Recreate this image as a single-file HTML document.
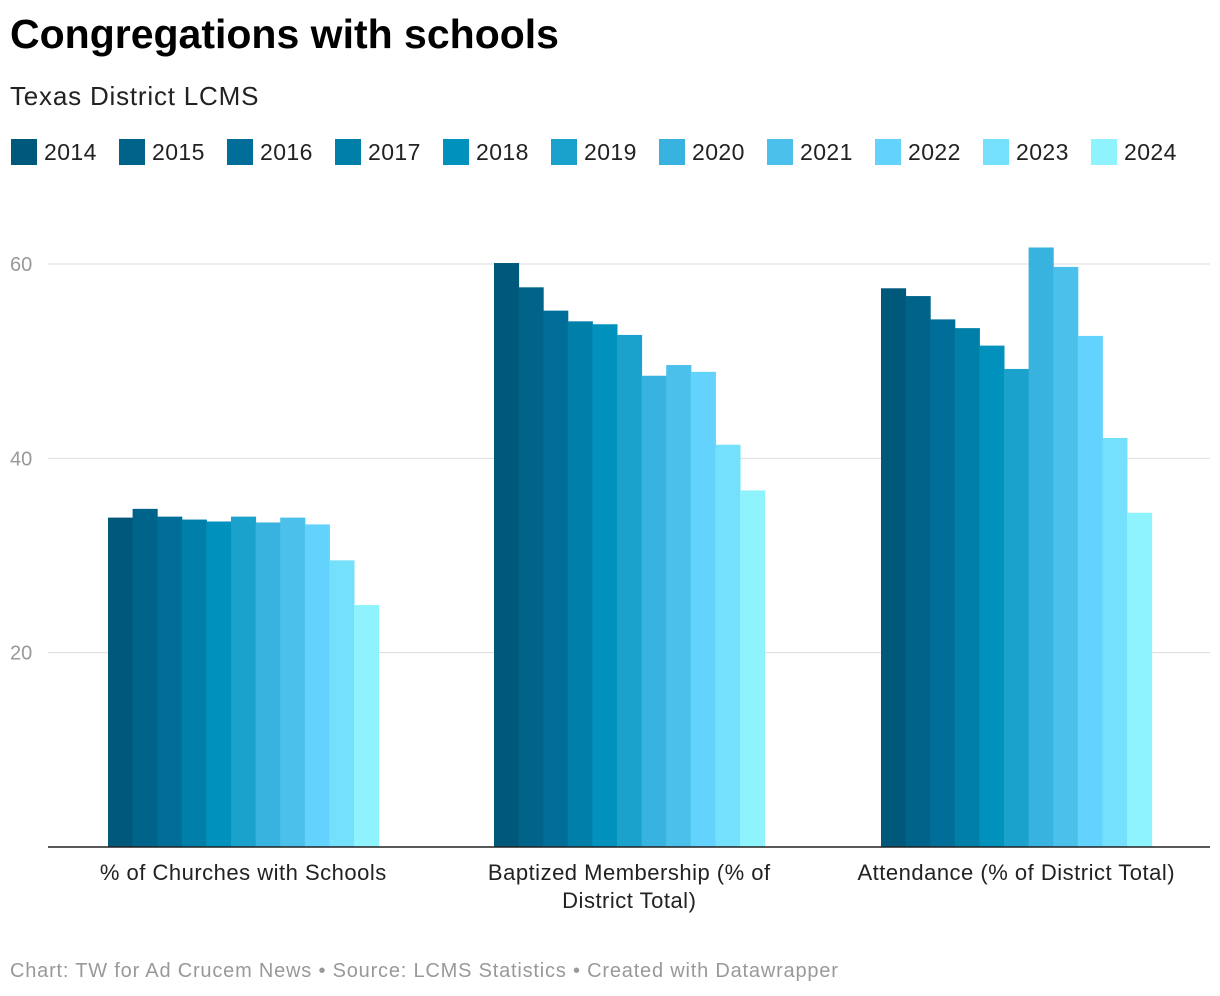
<!DOCTYPE html>
<html><head><meta charset="utf-8"><style>
body{margin:0;background:#fff;font-family:"Liberation Sans",sans-serif;width:1220px;height:996px;overflow:hidden;position:relative}
.t{position:absolute;white-space:nowrap}
</style></head><body>
<div class="t" style="left:10px;top:11px;font-size:41px;font-weight:bold;color:#000">Congregations with schools</div>
<div class="t" style="left:10px;top:81px;font-size:26px;letter-spacing:0.8px;color:#222">Texas District LCMS</div>
<svg id="c" width="1220" height="996" style="position:absolute;left:0;top:0"></svg>
<div class="t" style="left:10px;top:960px;font-size:20px;letter-spacing:0.8px;color:#999">Chart: TW for Ad Crucem News • Source: LCMS Statistics • Created with Datawrapper</div>
<script>
const years=["2014","2015","2016","2017","2018","2019","2020","2021","2022","2023","2024"];
const colors=["#00587a","#006389","#006e98","#0080a8","#0091bd","#1aa2cc","#38b2de","#4bc0ea","#63d2fc","#75e0fb","#8ff3fe"];
const categories=[["% of Churches with Schools"],["Baptized Membership (% of","District Total)"],["Attendance (% of District Total)"]];
const valsChurches=[33.9,34.8,34.0,33.7,33.5,34.0,33.4,33.9,33.2,29.5,24.9];
const valsBaptized=[60.1,57.6,55.2,54.1,53.8,52.7,48.5,49.6,48.9,41.4,36.7];
const valsAttendance=[57.5,56.7,54.3,53.4,51.6,49.2,61.7,59.7,52.6,42.1,34.4];
const yTicks=[20,40,60];
const series=[valsChurches,valsBaptized,valsAttendance];
const NS="http://www.w3.org/2000/svg";
const svg=document.getElementById('c');
const y=v=>847-v*(847-264)/60;
const groupX=[108,494,881], bw=24.6;
function mk(tag,attrs){const e=document.createElementNS(NS,tag);for(const k in attrs)e.setAttribute(k,attrs[k]);svg.appendChild(e);return e;}
yTicks.forEach(t=>{
  const l=mk('line',{x1:48,x2:1210,y1:y(t),y2:y(t),stroke:'#ddd','stroke-width':1});
  
  
  const tx=mk('text',{x:10,y:y(t)+7,'font-size':20,fill:'#999','font-family':'Liberation Sans'});
  tx.textContent=t;
  
  
});
series.forEach((vals,g)=>{
  vals.forEach((v,i)=>{
    const r=mk('rect',{x:groupX[g]+i*bw,y:y(v),width:bw+0.5,height:y(0)-y(v),fill:colors[i]});
    
    
  });
  const cx=groupX[g]+bw*11/2;
  categories[g].forEach((line,k)=>{
    const tx=mk('text',{x:cx,y:880+k*28,'font-size':22,'letter-spacing':0.5,fill:'#222','text-anchor':'middle','font-family':'Liberation Sans'});
    tx.textContent=line;
    
    
  });
});
const ax=mk('line',{x1:48,x2:1210,y1:847,y2:847,stroke:'#222','stroke-width':1.5});


years.forEach((yr,i)=>{
  const x0=11+i*108;
  const r=mk('rect',{x:x0,y:139,width:26,height:26,fill:colors[i]});
  
  
  const tx=mk('text',{x:x0+33,y:160,'font-size':23,'letter-spacing':0.4,fill:'#222','font-family':'Liberation Sans'});
  tx.textContent=yr;
  
  
});
</script>
</body></html>
